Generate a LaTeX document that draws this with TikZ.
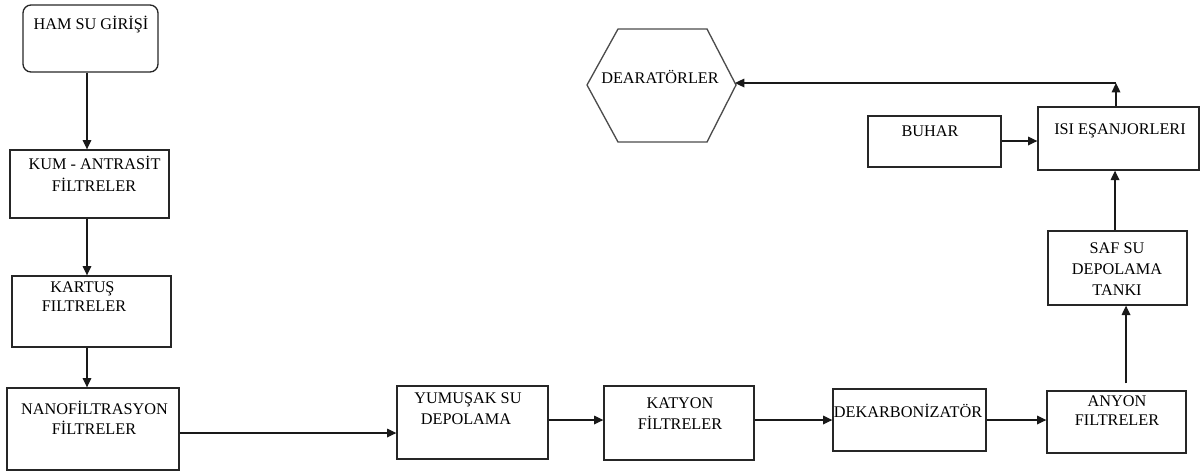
\documentclass[tikz,border=0pt]{standalone}
\usepackage{fontspec}
\setmainfont{Liberation Serif}
\newfontfamily\tnr{Liberation Serif}
\usetikzlibrary{arrows.meta,fit}
\begin{document}
\begin{tikzpicture}[x=0.75pt,y=-0.75pt,
  box/.style={draw=black!85, line width=1pt, inner sep=0pt, fill=none},
  lbl/.style={font=\tnr\fontsize{12.2}{15}\selectfont, inner sep=0pt, anchor=base},
  arr/.style={draw=black!90, line width=0.9pt, -{Triangle[length=7pt,width=6.5pt]}}]
\useasboundingbox (0,0) rectangle (1201,472);
% boxes
\node[box, rounded corners=6pt, fit={(23,5) (158,72)}] (ham) {};
\node[box, fit={(10,150) (169,218)}] (kum) {};
\node[box, fit={(12,276) (171,347)}] (kar) {};
\node[box, fit={(7,388) (179,470)}] (nano) {};
\node[box, fit={(397,386) (548,459)}] (yum) {};
\node[box, fit={(604,386) (754,460)}] (kat) {};
\node[box, fit={(833,389) (986,451)}] (dek) {};
\node[box, fit={(1047,391) (1186,453)}] (any) {};
\node[box, fit={(1048,231) (1187,305)}] (saf) {};
\node[box, fit={(1038,107) (1199,170)}] (isi) {};
\node[box, fit={(868,116) (1001,167)}] (buh) {};
\draw[draw=black!70, line width=1pt] (587,85) -- (618,29) -- (707,29) -- (736,85) -- (707,142) -- (618,142) -- cycle;
\coordinate (dear) at (735,83);
% texts
\node[lbl] (t-ham) at (91,29.5) {HAM SU GİRİŞİ};
\node[lbl] (t-kum1) at (94.5,169.5) {KUM - ANTRASİT};
\node[lbl] (t-kum2) at (94,191.5) {FİLTRELER};
\node[lbl] (t-kar1) at (82.5,292.5) {KARTUŞ};
\node[lbl] (t-kar2) at (84,311.5) {FILTRELER};
\node[lbl] (t-nan1) at (94.5,414.5) {NANOFİLTRASYON};
\node[lbl] (t-nan2) at (94,434.5) {FİLTRELER};
\node[lbl] (t-yum1) at (468,403.5) {YUMUŞAK SU};
\node[lbl] (t-yum2) at (466,424.5) {DEPOLAMA};
\node[lbl] (t-kat1) at (680,408.5) {KATYON};
\node[lbl] (t-kat2) at (680,429.5) {FİLTRELER};
\node[lbl] (t-dek) at (908,417.5) {DEKARBONİZATÖR};
\node[lbl] (t-any1) at (1117,406.5) {ANYON};
\node[lbl] (t-any2) at (1117,425.5) {FILTRELER};
\node[lbl] (t-saf1) at (1117,253.5) {SAF SU};
\node[lbl] (t-saf2) at (1117,274.5) {DEPOLAMA};
\node[lbl] (t-saf3) at (1117,295.5) {TANKI};
\node[lbl] (t-isi) at (1120,134.5) {ISI EŞANJORLERI};
\node[lbl] (t-buh) at (930,136.5) {BUHAR};
\node[lbl] (t-dear) at (660,83.5) {DEARATÖRLER};
% connectors
\draw[arr] (ham.south -| 87,0) -- (kum.north -| 87,0);
\draw[arr] (kum.south -| 87,0) -- (kar.north -| 87,0);
\draw[arr] (kar.south -| 87,0) -- (nano.north -| 87,0);
\draw[arr] (nano.east |- 0,433) -- (yum.west |- 0,433);
\draw[arr] (yum.east |- 0,420) -- (kat.west |- 0,420);
\draw[arr] (kat.east |- 0,420) -- (dek.west |- 0,420);
\draw[arr] (dek.east |- 0,420) -- (any.west |- 0,420);
\draw[arr, shorten <=5.25pt] (any.north -| 1126,0) -- (saf.south -| 1126,0);
\draw[arr] (saf.north -| 1115,0) -- (isi.south -| 1115,0);
\draw[arr] (buh.east |- 0,141) -- (isi.west |- 0,141);
\coordinate (j) at (1116,83);
\draw[arr] (isi.north -| j) -- (j);
\draw[arr] (j) -- (dear);
\end{tikzpicture}
\end{document}
